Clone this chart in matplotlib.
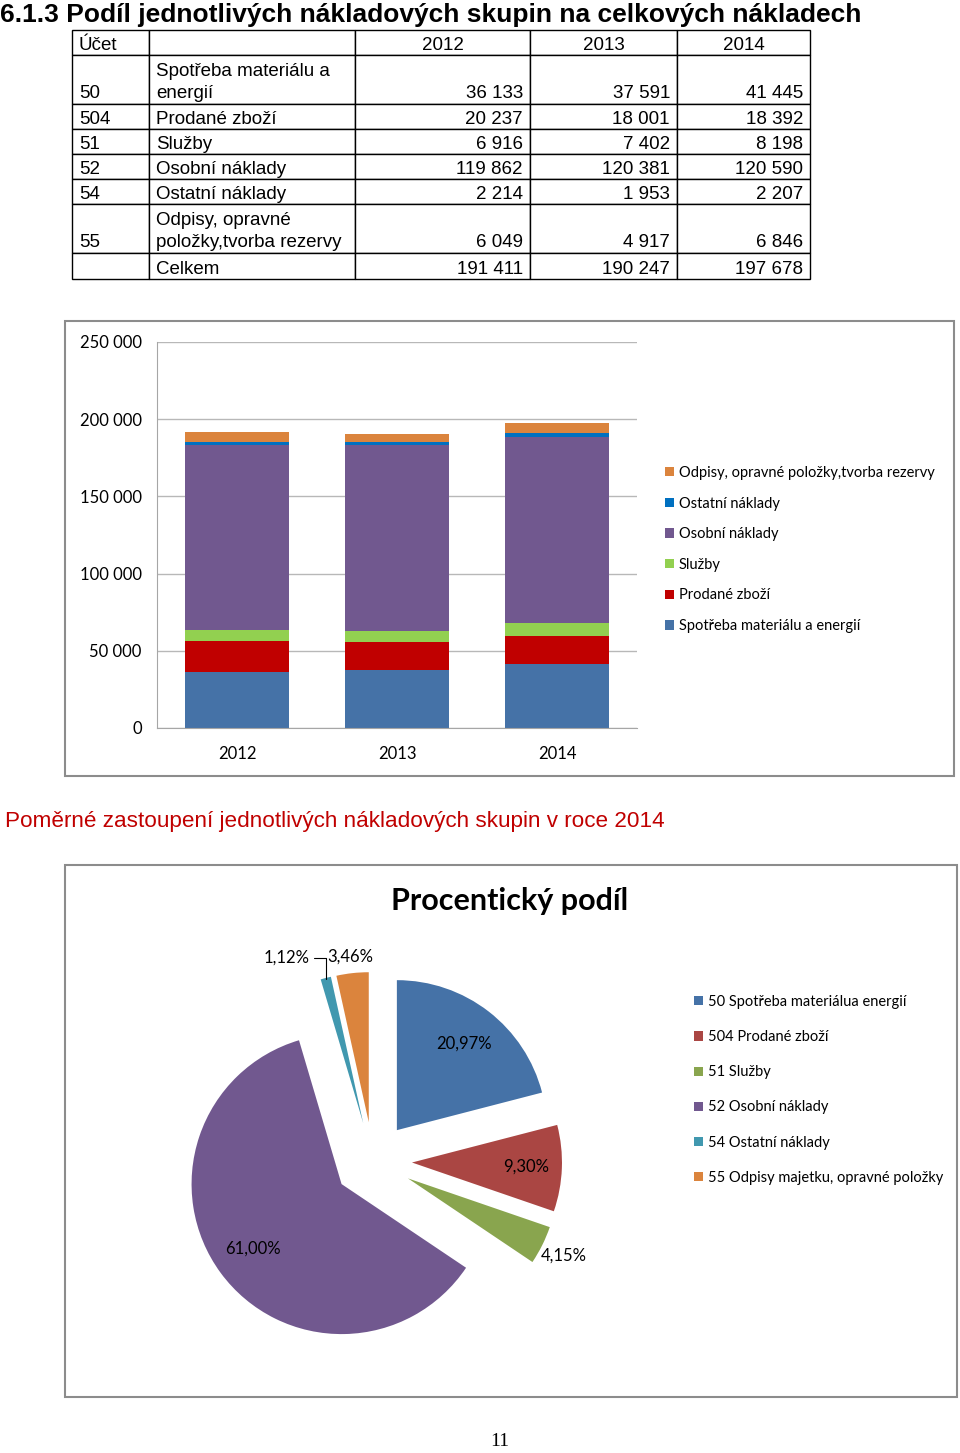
import matplotlib
matplotlib.use("Agg")
import matplotlib.pyplot as plt
from matplotlib.patches import Rectangle
from matplotlib.transforms import Affine2D
import numpy as np

W, H = 960, 1453

# --- data -----------------------------------------------------------------
years = ["2012", "2013", "2014"]
accounts = ["50", "504", "51", "52", "54", "55"]
groups = ["Spotřeba materiálu a energií", "Prodané zboží", "Služby",
          "Osobní náklady", "Ostatní náklady",
          "Odpisy, opravné položky,tvorba rezervy"]
table_groups = ["Spotřeba materiálu a\nenergií", "Prodané zboží", "Služby",
                "Osobní náklady", "Ostatní náklady",
                "Odpisy, opravné\npoložky,tvorba rezervy"]
costs_2012 = [36133, 20237, 6916, 119862, 2214, 6049]
costs_2013 = [37591, 18001, 7402, 120381, 1953, 4917]
costs_2014 = [41445, 18392, 8198, 120590, 2207, 6846]
totals = [191411, 190247, 197678]
pie_labels = ["50 Spotřeba materiálua energií", "504 Prodané zboží", "51 Služby",
              "52 Osobní náklady", "54 Ostatní náklady",
              "55 Odpisy majetku, opravné položky"]

bar_colors = ["#4572a7", "#c00000", "#92d050", "#71588f", "#0070c0", "#db843d"]
pie_colors = ["#4572a7", "#aa4643", "#89a54e", "#71588f", "#4198af", "#db843d"]

CHART_FONT = "Lato"
TABLE_FONT = "Liberation Sans"


def rect(x0, y0, x1, y1):
    # pixel box (top-left origin) -> figure fraction rect
    return [x0 / W, 1 - y1 / H, (x1 - x0) / W, (y1 - y0) / H]


def fmt(v):
    return f"{v:,}".replace(",", " ")


fig = plt.figure(figsize=(W / 100, H / 100), dpi=100)

# --- heading ----------------------------------------------------------------
fig.text(0.0, 1 - 15 / H,
         "6.1.3 Podíl jednotlivých nákladových skupin na celkových nákladech",
         ha="left", va="center", fontsize=19, weight="bold", family=TABLE_FONT)

# --- table ------------------------------------------------------------------
col_edges = [72, 149, 355, 530, 677, 810]
row_edges = [29.5, 54.5, 103.5, 128.5, 153.5, 178.5, 203.5, 252.5, 278.5]

cell_text = [["Účet", ""] + years]
for i in range(len(accounts)):
    tall = "\n" in table_groups[i]
    pre = "\n" if tall else ""
    vals = [costs_2012[i], costs_2013[i], costs_2014[i]]
    cell_text.append([pre + accounts[i], table_groups[i]] + [pre + fmt(v) for v in vals])
cell_text.append(["", "Celkem"] + [fmt(v) for v in totals])

tax = fig.add_axes(rect(col_edges[0], row_edges[0], col_edges[-1], row_edges[-1]))
tax.axis("off")
col_w = np.diff(col_edges)
row_h = np.diff(row_edges)
tbl = tax.table(cellText=cell_text, colWidths=list(col_w / col_w.sum()),
                bbox=[0, 0, 1, 1])
tbl.auto_set_font_size(False)
for (r, c), cell in tbl.get_celld().items():
    cell.set_height(row_h[r] / row_h.sum())
    cell.set_edgecolor("black")
    cell.set_linewidth(1.0)
    cell.PAD = 7 / col_w[c]
    t = cell.get_text()
    t.set_fontsize(13.5)
    t.set_family(TABLE_FONT)
    t.set_linespacing(1.45)
    # nudge text a little lower in its cell
    t.set_transform(Affine2D().translate(0, -3.5))
    if c < 2:
        t.set_ha("left")
    elif r == 0:
        t.set_ha("center")
    else:
        t.set_ha("right")

# --- stacked bar chart ------------------------------------------------------
fig.add_artist(Rectangle((65 / W, 1 - 776 / H), (954 - 65) / W, (776 - 321) / H,
                         transform=fig.transFigure, fill=False,
                         ec="#8c8c8c", lw=1.5))
ax = fig.add_axes(rect(157, 342, 637, 728))
x = np.arange(len(years))
series = np.array([costs_2012, costs_2013, costs_2014]).T
bottom = np.zeros(len(years))
for i, name in enumerate(groups):
    ax.bar(x, series[i], 0.65, bottom=bottom, color=bar_colors[i], label=name)
    bottom += series[i]
ax.set_xlim(-0.5, 2.5)
ax.set_ylim(0, 250000)
ticks = np.arange(0, 250001, 50000)
ax.set_yticks(ticks)
ax.set_yticklabels([fmt(t) for t in ticks])
ax.set_xticks(x)
ax.set_xticklabels(years)
ax.yaxis.grid(True, color="#b8b8b8", lw=1)
ax.set_axisbelow(True)
for s in ["top", "right"]:
    ax.spines[s].set_visible(False)
for s in ["left", "bottom"]:
    ax.spines[s].set_color("#a6a6a6")
ax.tick_params(length=0, labelsize=12)
ax.tick_params(axis="y", pad=11)
ax.tick_params(axis="x", pad=13)
for lab in ax.get_xticklabels() + ax.get_yticklabels():
    lab.set_family(CHART_FONT)

h, l = ax.get_legend_handles_labels()
fig.legend(h[::-1], l[::-1], loc="upper left",
           bbox_to_anchor=(665 / W, 1 - 466 / H), frameon=False,
           prop={"family": CHART_FONT, "size": 10.5},
           handlelength=0.6, handleheight=0.6, handletextpad=0.35,
           labelspacing=1.14, borderpad=0, borderaxespad=0)

# --- red subtitle -----------------------------------------------------------
fig.text(5 / W, 1 - 822 / H,
         "Poměrné zastoupení jednotlivých nákladových skupin v roce 2014",
         ha="left", va="center", fontsize=16.2, color="#c00000", family=TABLE_FONT)

# --- pie chart --------------------------------------------------------------
fig.add_artist(Rectangle((65 / W, 1 - 1397 / H), (957 - 65) / W, (1397 - 865) / H,
                         transform=fig.transFigure, fill=False,
                         ec="#8c8c8c", lw=1.5))
fig.text(510 / W, 1 - 901 / H, "Procentický podíl", ha="center", va="center",
         fontsize=22, weight="bold", family=CHART_FONT)

pax = fig.add_axes(rect(73, 861, 673, 1461))
wedges, _ = pax.pie(costs_2014, explode=[0.26] * 6, colors=pie_colors,
                    startangle=90, counterclock=False, radius=1)
pax.set_xlim(-2, 2)
pax.set_ylim(-2, 2)
pax.set_aspect("equal")
pax.axis("off")
pct = np.array(costs_2014) / sum(costs_2014) * 100
label_r = [0.99, 1.02, 1.42, 0.99, 1.47, 1.37]
label_shift = [0, 0, 0, 0, 8.5, 0]
for i, w in enumerate(wedges):
    w.set_clip_on(False)
    mid = np.radians((w.theta1 + w.theta2) / 2 + label_shift[i])
    txt = f"{pct[i]:.2f}".replace(".", ",") + "%"
    pos = (label_r[i] * np.cos(mid), label_r[i] * np.sin(mid))
    if i == 4:
        tip = np.radians((w.theta1 + w.theta2) / 2)
        pax.annotate(txt, xy=(1.25 * np.cos(tip), 1.25 * np.sin(tip)), xytext=pos,
                     ha="center", va="center", fontsize=12, family=CHART_FONT,
                     annotation_clip=False,
                     arrowprops=dict(arrowstyle="-", color="black", lw=0.8,
                                     shrinkA=1, shrinkB=0,
                                     connectionstyle="angle,angleA=0,angleB=90,rad=0"))
    else:
        pax.text(pos[0], pos[1], txt, ha="center", va="center", fontsize=12,
                 family=CHART_FONT)

fig.legend(wedges, pie_labels, loc="upper left",
           bbox_to_anchor=(694 / W, 1 - 995 / H), frameon=False,
           prop={"family": CHART_FONT, "size": 10.5},
           handlelength=0.6, handleheight=0.6, handletextpad=0.35,
           labelspacing=1.45, borderpad=0, borderaxespad=0)

# --- page number ------------------------------------------------------------
fig.text(500 / W, 1 - 1442 / H, "11", ha="center", va="center", fontsize=14,
         family="Liberation Serif")

fig.savefig("out.png", dpi=100)
